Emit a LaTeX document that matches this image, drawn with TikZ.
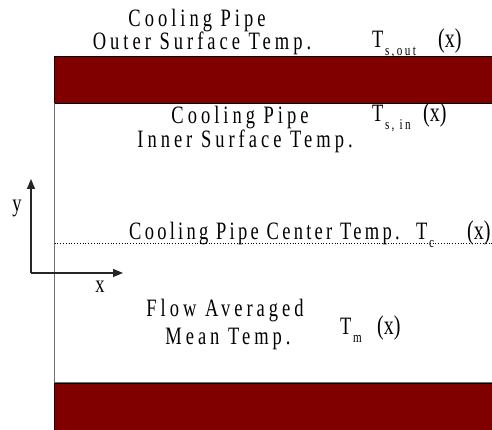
\documentclass[tikz,border=0pt]{standalone}
\usepackage{fontspec}
\setmainfont{Liberation Serif}[FakeStretch=0.74, LetterSpace=16]
\usetikzlibrary{arrows.meta}
\definecolor{pipered}{HTML}{800000}
\definecolor{edgegray}{HTML}{707070}
% subscript set low and small, as in the temperature symbols
\newcommand{\lowsub}[1]{\hspace{1.5pt}\raisebox{-0.65ex}{\fontsize{15}{15}\selectfont #1}}
% "T" with subscript in a box of given width, then "(x)"
\newcommand{\tsym}[2]{\makebox[#1][l]{T\lowsub{#2}}{\fontsize{27}{27}\selectfont\addfontfeatures{LetterSpace=0}(x)}}

\begin{document}
\begin{tikzpicture}[x=1pt, y=1pt,
  lbl/.style={inner sep=0pt, font=\fontsize{25}{26}\selectfont},
  wall/.style={fill=pipered, draw=black, line width=0.8pt},
  axis/.style={line width=1.2pt, draw=black!85, -{Triangle[length=10pt,width=8pt]}}]
\useasboundingbox (0,0) rectangle (492,430);

% pipe walls
\fill[white] (0,0) rectangle (492,430);
\draw[wall] (54.5,374) rectangle (493,327);
\draw[wall] (54.5,47) rectangle (493,-1);
\draw[edgegray, line width=0.8pt] (54.5,327) -- (54.5,47);
\draw[edgegray, line width=0.8pt] (54.5,47.8) -- (492,47.8);

% centre line
\coordinate (cl0) at (54.5,187);
\coordinate (cl1) at (492,187);
\draw[dotted, line width=0.8pt] (cl0) -- (cl1);

% coordinate axes
\coordinate (o) at (31,157);
\coordinate (yend) at (31,251);
\coordinate (xend) at (123,157);
\draw[axis] (o) -- (yend);
\draw[axis] (o) -- (xend);
\node[lbl, anchor=base] (ylab) at (17,218) {y};
\node[lbl, anchor=base] (xlab) at (100,137) {x};

% labels
\node[lbl, anchor=base] (outer1) at (197,403) {Cooling Pipe};
\node[lbl, anchor=base] (outer2) at (202,380) {Outer Surface Temp.};
\node[lbl, anchor=base west] (tsout) at (372,382) {\tsym{66pt}{s,out}};

\node[lbl, anchor=base] (inner1) at (240,306) {Cooling Pipe};
\node[lbl, anchor=base] (inner2) at (245,282) {Inner Surface Temp.};
\node[lbl, anchor=base west] (tsin) at (372,308) {\tsym{51pt}{s, in}};

\node[lbl, anchor=base west] (center) at (129,190)
  {\addfontfeatures{LetterSpace=13}Cooling Pipe Center Temp.};
\node[lbl, anchor=base west] (tc) at (416,190) {\tsym{51pt}{c}};

\node[lbl, anchor=base] (mean1) at (225,113) {Flow Averaged};
\node[lbl, anchor=base] (mean2) at (228,85) {Mean Temp.};
\node[lbl, anchor=base west] (tm) at (340,95) {\tsym{37pt}{m}};
\end{tikzpicture}
\end{document}
